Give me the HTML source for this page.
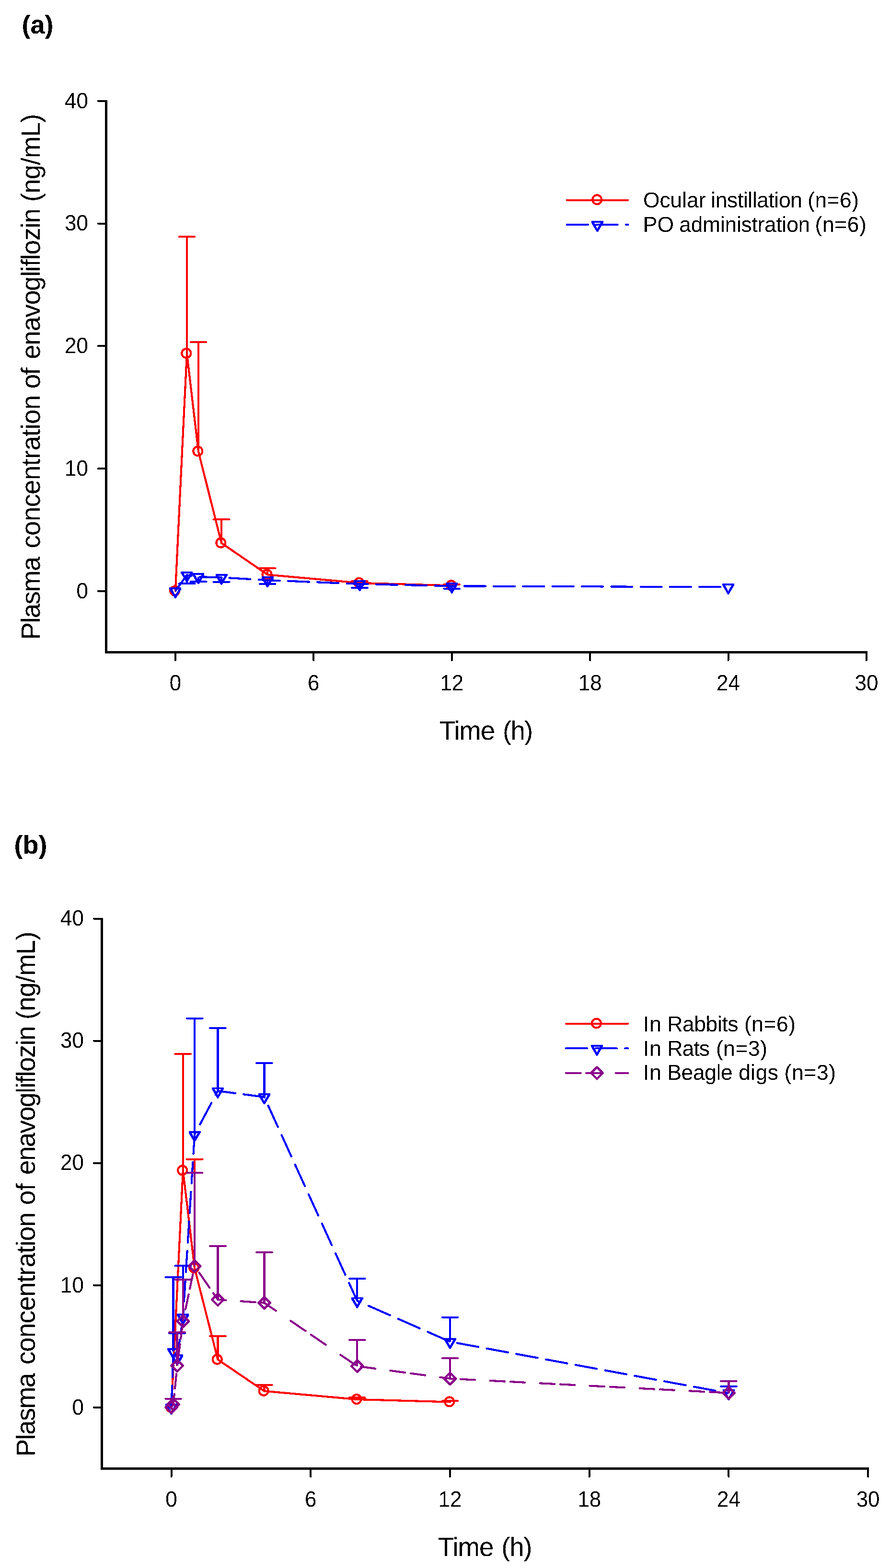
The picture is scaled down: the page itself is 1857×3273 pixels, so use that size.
<!DOCTYPE html>
<html lang="en">
<head>
<meta charset="utf-8">
<title>Plasma concentration of enavogliflozin</title>
<style>
html,body{margin:0;padding:0;background:#fff;}
body{width:1857px;height:3273px;overflow:hidden;}
svg{display:block;}
text{font-family:"Liberation Sans",sans-serif;fill:#000;filter:url(#crisp);}
</style>
</head>
<body>
<svg width="1857" height="3273" viewBox="0 0 1857 3273" shape-rendering="crispEdges" text-rendering="geometricPrecision">
<defs><filter id="crisp" x="-5%" y="-20%" width="110%" height="140%" color-interpolation-filters="sRGB"><feComponentTransfer><feFuncA type="discrete" tableValues="0 1"/></feComponentTransfer></filter></defs>
<rect x="0" y="0" width="1857" height="3273" fill="#fff"/>
<g>
<line x1="221.5" y1="208.8" x2="221.5" y2="1364" stroke="#000" stroke-width="5" stroke-linecap="butt"/>
<line x1="219" y1="1361.5" x2="1810" y2="1361.5" stroke="#000" stroke-width="5" stroke-linecap="butt"/>
<line x1="205" y1="1233.8" x2="221.5" y2="1233.8" stroke="#000" stroke-width="4" stroke-linecap="round"/>
<text transform="translate(184 1248.5) scale(1 1.05)" font-size="44" text-anchor="end">0</text>
<line x1="205" y1="978.05" x2="221.5" y2="978.05" stroke="#000" stroke-width="4" stroke-linecap="round"/>
<text transform="translate(184 992.75) scale(1 1.05)" font-size="44" text-anchor="end">10</text>
<line x1="205" y1="722.3" x2="221.5" y2="722.3" stroke="#000" stroke-width="4" stroke-linecap="round"/>
<text transform="translate(184 737) scale(1 1.05)" font-size="44" text-anchor="end">20</text>
<line x1="205" y1="466.55" x2="221.5" y2="466.55" stroke="#000" stroke-width="4" stroke-linecap="round"/>
<text transform="translate(184 481.25) scale(1 1.05)" font-size="44" text-anchor="end">30</text>
<line x1="205" y1="210.8" x2="221.5" y2="210.8" stroke="#000" stroke-width="4" stroke-linecap="round"/>
<text transform="translate(184 225.5) scale(1 1.05)" font-size="44" text-anchor="end">40</text>
<line x1="365.9" y1="1361.5" x2="365.9" y2="1378" stroke="#000" stroke-width="4" stroke-linecap="round"/>
<text transform="translate(365.9 1440.8) scale(1 1.05)" font-size="44" text-anchor="middle">0</text>
<line x1="654.32" y1="1361.5" x2="654.32" y2="1378" stroke="#000" stroke-width="4" stroke-linecap="round"/>
<text transform="translate(654.32 1440.8) scale(1 1.05)" font-size="44" text-anchor="middle">6</text>
<line x1="942.74" y1="1361.5" x2="942.74" y2="1378" stroke="#000" stroke-width="4" stroke-linecap="round"/>
<text transform="translate(942.74 1440.8) scale(1 1.05)" font-size="44" text-anchor="middle">12</text>
<line x1="1231.16" y1="1361.5" x2="1231.16" y2="1378" stroke="#000" stroke-width="4" stroke-linecap="round"/>
<text transform="translate(1231.16 1440.8) scale(1 1.05)" font-size="44" text-anchor="middle">18</text>
<line x1="1519.58" y1="1361.5" x2="1519.58" y2="1378" stroke="#000" stroke-width="4" stroke-linecap="round"/>
<text transform="translate(1519.58 1440.8) scale(1 1.05)" font-size="44" text-anchor="middle">24</text>
<line x1="1808" y1="1361.5" x2="1808" y2="1378" stroke="#000" stroke-width="4" stroke-linecap="round"/>
<text transform="translate(1808 1440.8) scale(1 1.05)" font-size="44" text-anchor="middle">30</text>
</g>
<text transform="translate(917.9 1543.8) scale(1 1.01)" font-size="54.7" xml:space="preserve"><tspan x="-1" style="letter-spacing:-1.07px">Time</tspan> <tspan x="131.2" style="letter-spacing:-1.8px">(h)</tspan></text>
<text transform="translate(83.2 1331.3) rotate(-90) scale(1 1.01)" font-size="54.7" xml:space="preserve"><tspan x="-4" style="letter-spacing:-1.76px">Plasma</tspan> <tspan x="186.7" style="letter-spacing:-0.72px">concentration</tspan> <tspan x="520.1" style="letter-spacing:-1.8px">of</tspan> <tspan x="581.5" style="letter-spacing:-1.29px">enavogliflozin</tspan> <tspan x="910.1" style="letter-spacing:-0.83px">(ng/mL)</tspan></text>
<text transform="translate(45.5 70.3)" font-size="54" text-anchor="start" font-weight="bold">(a)</text>
<g>
<polyline points="365.9,1233.8 389.94,737.9 413.97,942.24 462.04,1133.55 558.18,1199.53 750.46,1216.92 942.74,1222.29" fill="none" stroke="#ff0000" stroke-width="4.2" stroke-linejoin="round" stroke-linecap="round"/>
<line x1="389.94" y1="737.9" x2="389.94" y2="494.17" stroke="#ff0000" stroke-width="4.5" stroke-linecap="butt"/>
<polygon points="371.29,494.17 372.88,492.17 406.99,492.17 408.58,494.17 406.99,496.17 372.88,496.17" fill="#ff0000"/>
<line x1="413.97" y1="942.24" x2="413.97" y2="714.12" stroke="#ff0000" stroke-width="4.5" stroke-linecap="butt"/>
<polygon points="395.32,714.12 396.92,712.12 431.02,712.12 432.62,714.12 431.02,716.12 396.92,716.12" fill="#ff0000"/>
<line x1="462.04" y1="1133.55" x2="462.04" y2="1084.44" stroke="#ff0000" stroke-width="4.5" stroke-linecap="butt"/>
<polygon points="443.39,1084.44 444.99,1082.44 479.09,1082.44 480.69,1084.44 479.09,1086.44 444.99,1086.44" fill="#ff0000"/>
<line x1="558.18" y1="1199.53" x2="558.18" y2="1186.49" stroke="#ff0000" stroke-width="4.5" stroke-linecap="butt"/>
<polygon points="539.53,1186.49 541.13,1184.49 575.23,1184.49 576.83,1186.49 575.23,1188.49 541.13,1188.49" fill="#ff0000"/>
<line x1="750.46" y1="1216.92" x2="750.46" y2="1213.34" stroke="#ff0000" stroke-width="4.5" stroke-linecap="butt"/>
<polygon points="731.81,1213.34 733.41,1211.34 767.51,1211.34 769.11,1213.34 767.51,1215.34 733.41,1215.34" fill="#ff0000"/>
<line x1="942.74" y1="1222.29" x2="942.74" y2="1219.99" stroke="#ff0000" stroke-width="4.5" stroke-linecap="butt"/>
<polygon points="924.09,1219.99 925.69,1217.99 959.79,1217.99 961.39,1219.99 959.79,1221.99 925.69,1221.99" fill="#ff0000"/>
<circle cx="364.7" cy="1233.3" r="9.45" fill="none" stroke="#ff0000" stroke-width="4.2"/>
<circle cx="388.74" cy="737.4" r="9.45" fill="none" stroke="#ff0000" stroke-width="4.2"/>
<circle cx="412.77" cy="941.74" r="9.45" fill="none" stroke="#ff0000" stroke-width="4.2"/>
<circle cx="460.84" cy="1133.05" r="9.45" fill="none" stroke="#ff0000" stroke-width="4.2"/>
<circle cx="556.98" cy="1199.03" r="9.45" fill="none" stroke="#ff0000" stroke-width="4.2"/>
<circle cx="749.26" cy="1216.42" r="9.45" fill="none" stroke="#ff0000" stroke-width="4.2"/>
<circle cx="941.54" cy="1221.79" r="9.45" fill="none" stroke="#ff0000" stroke-width="4.2"/>
</g>
<g>
<path d="M366.83,1232.5L389.94,1200.3L399.78,1201.87M417.07,1204.22L462.04,1205.41L462.66,1205.45M478.36,1206.37L522.36,1208.94M539.67,1209.95L558.18,1211.04L583.66,1212.09M600.97,1212.8L644.97,1214.62M662.27,1215.33L706.27,1217.14M723.57,1217.86L750.46,1218.97L767.57,1219.35M784.87,1219.74L828.87,1220.74M846.18,1221.13L890.17,1222.13M907.48,1222.52L942.74,1223.31L951.47,1223.35M968.78,1223.41L1012.77,1223.56M1030.08,1223.62L1074.07,1223.78M1091.38,1223.84L1135.38,1224M1152.68,1224.06L1196.68,1224.21M1213.99,1224.28L1257.98,1224.43M1275.29,1224.49L1319.28,1224.65M1336.59,1224.71L1380.58,1224.87M1397.89,1224.93L1441.88,1225.08M1459.19,1225.15L1503.19,1225.3" fill="none" stroke="#0000ff" stroke-width="4.2" stroke-linecap="round" stroke-linejoin="round"/>
<line x1="389.94" y1="1200.3" x2="389.94" y2="1218.45" stroke="#0000ff" stroke-width="4.5" stroke-linecap="butt"/>
<polygon points="371.29,1218.45 372.88,1216.45 406.99,1216.45 408.58,1218.45 406.99,1220.45 372.88,1220.45" fill="#0000ff"/>
<line x1="413.97" y1="1204.13" x2="413.97" y2="1214.49" stroke="#0000ff" stroke-width="4.5" stroke-linecap="butt"/>
<polygon points="395.32,1214.49 396.92,1212.49 431.02,1212.49 432.62,1214.49 431.02,1216.49 396.92,1216.49" fill="#0000ff"/>
<line x1="462.04" y1="1205.41" x2="462.04" y2="1214.62" stroke="#0000ff" stroke-width="4.5" stroke-linecap="butt"/>
<polygon points="443.39,1214.62 444.99,1212.62 479.09,1212.62 480.69,1214.62 479.09,1216.62 444.99,1216.62" fill="#0000ff"/>
<line x1="558.18" y1="1211.04" x2="558.18" y2="1218.97" stroke="#0000ff" stroke-width="4.5" stroke-linecap="butt"/>
<polygon points="539.53,1218.97 541.13,1216.97 575.23,1216.97 576.83,1218.97 575.23,1220.97 541.13,1220.97" fill="#0000ff"/>
<line x1="750.46" y1="1218.97" x2="750.46" y2="1226.89" stroke="#0000ff" stroke-width="4.5" stroke-linecap="butt"/>
<polygon points="731.81,1226.89 733.41,1224.89 767.51,1224.89 769.11,1226.89 767.51,1228.89 733.41,1228.89" fill="#0000ff"/>
<line x1="942.74" y1="1223.31" x2="942.74" y2="1228.68" stroke="#0000ff" stroke-width="4.5" stroke-linecap="butt"/>
<polygon points="924.09,1228.68 925.69,1226.68 959.79,1226.68 961.39,1228.68 959.79,1230.68 925.69,1230.68" fill="#0000ff"/>
<path d="M353.4,1226.13L378.4,1226.13L378.4,1230.03L367.1,1249.13L364.7,1249.13L353.4,1230.03ZM359.3,1230.03L372.5,1230.03L365.9,1242.13Z" fill="#0000ff" fill-rule="evenodd"/>
<path d="M377.44,1192.63L402.44,1192.63L402.44,1196.53L391.13,1215.63L388.74,1215.63L377.44,1196.53ZM383.33,1196.53L396.54,1196.53L389.94,1208.63Z" fill="#0000ff" fill-rule="evenodd"/>
<path d="M401.47,1196.47L426.47,1196.47L426.47,1200.37L415.17,1219.47L412.77,1219.47L401.47,1200.37ZM407.37,1200.37L420.57,1200.37L413.97,1212.47Z" fill="#0000ff" fill-rule="evenodd"/>
<path d="M449.54,1197.75L474.54,1197.75L474.54,1201.65L463.24,1220.75L460.84,1220.75L449.54,1201.65ZM455.44,1201.65L468.64,1201.65L462.04,1213.75Z" fill="#0000ff" fill-rule="evenodd"/>
<path d="M545.68,1203.37L570.68,1203.37L570.68,1207.27L559.38,1226.37L556.98,1226.37L545.68,1207.27ZM551.58,1207.27L564.78,1207.27L558.18,1219.37Z" fill="#0000ff" fill-rule="evenodd"/>
<path d="M737.96,1211.3L762.96,1211.3L762.96,1215.2L751.66,1234.3L749.26,1234.3L737.96,1215.2ZM743.86,1215.2L757.06,1215.2L750.46,1227.3Z" fill="#0000ff" fill-rule="evenodd"/>
<path d="M930.24,1215.65L955.24,1215.65L955.24,1219.55L943.94,1238.65L941.54,1238.65L930.24,1219.55ZM936.14,1219.55L949.34,1219.55L942.74,1231.65Z" fill="#0000ff" fill-rule="evenodd"/>
<path d="M1507.08,1217.69L1532.08,1217.69L1532.08,1221.59L1520.78,1240.69L1518.38,1240.69L1507.08,1221.59ZM1512.98,1221.59L1526.18,1221.59L1519.58,1233.69Z" fill="#0000ff" fill-rule="evenodd"/>
</g>
<line x1="1183" y1="417.7" x2="1310" y2="417.7" stroke="#ff0000" stroke-width="4" stroke-linecap="round"/>
<circle cx="1245.7" cy="416.7" r="9.45" fill="none" stroke="#ff0000" stroke-width="4.2"/>
<text transform="translate(1343.9 432.8) scale(1 1.02)" font-size="44.4" xml:space="preserve"><tspan x="-2" style="letter-spacing:-0.04px">Ocular</tspan> <tspan x="139.4" style="letter-spacing:-0.38px">instillation</tspan> <tspan x="341.3" style="letter-spacing:0.5px">(n=6)</tspan></text>
<path d="M1182.5,468.9L1227,468.9M1244.2,468.9L1288.7,468.9M1305.9,468.9L1310.5,468.9" fill="none" stroke="#0000ff" stroke-width="4" stroke-linecap="round" stroke-linejoin="round"/>
<path d="M1233.9,461.23L1258.9,461.23L1258.9,465.13L1247.6,484.23L1245.2,484.23L1233.9,465.13ZM1239.8,465.13L1253,465.13L1246.4,477.23Z" fill="#0000ff" fill-rule="evenodd"/>
<text transform="translate(1345.8 483.7) scale(1 1.02)" font-size="44.4" xml:space="preserve"><tspan x="-4">PO</tspan> <tspan x="71.5" style="letter-spacing:-0.26px">administration</tspan> <tspan x="354.8" style="letter-spacing:0.6px">(n=6)</tspan></text>
<g>
<line x1="212.5" y1="1915.5" x2="212.5" y2="3068" stroke="#000" stroke-width="5" stroke-linecap="butt"/>
<line x1="210" y1="3065.5" x2="1813.1" y2="3065.5" stroke="#000" stroke-width="5" stroke-linecap="butt"/>
<line x1="196" y1="2937.9" x2="212.5" y2="2937.9" stroke="#000" stroke-width="4" stroke-linecap="round"/>
<text transform="translate(175 2952.6) scale(1 1.05)" font-size="44" text-anchor="end">0</text>
<line x1="196" y1="2682.8" x2="212.5" y2="2682.8" stroke="#000" stroke-width="4" stroke-linecap="round"/>
<text transform="translate(175 2697.5) scale(1 1.05)" font-size="44" text-anchor="end">10</text>
<line x1="196" y1="2427.7" x2="212.5" y2="2427.7" stroke="#000" stroke-width="4" stroke-linecap="round"/>
<text transform="translate(175 2442.4) scale(1 1.05)" font-size="44" text-anchor="end">20</text>
<line x1="196" y1="2172.6" x2="212.5" y2="2172.6" stroke="#000" stroke-width="4" stroke-linecap="round"/>
<text transform="translate(175 2187.3) scale(1 1.05)" font-size="44" text-anchor="end">30</text>
<line x1="196" y1="1917.5" x2="212.5" y2="1917.5" stroke="#000" stroke-width="4" stroke-linecap="round"/>
<text transform="translate(175 1932.2) scale(1 1.05)" font-size="44" text-anchor="end">40</text>
<line x1="357.6" y1="3065.5" x2="357.6" y2="3082" stroke="#000" stroke-width="4" stroke-linecap="round"/>
<text transform="translate(357.6 3144.5) scale(1 1.05)" font-size="44" text-anchor="middle">0</text>
<line x1="648.3" y1="3065.5" x2="648.3" y2="3082" stroke="#000" stroke-width="4" stroke-linecap="round"/>
<text transform="translate(648.3 3144.5) scale(1 1.05)" font-size="44" text-anchor="middle">6</text>
<line x1="939" y1="3065.5" x2="939" y2="3082" stroke="#000" stroke-width="4" stroke-linecap="round"/>
<text transform="translate(939 3144.5) scale(1 1.05)" font-size="44" text-anchor="middle">12</text>
<line x1="1229.7" y1="3065.5" x2="1229.7" y2="3082" stroke="#000" stroke-width="4" stroke-linecap="round"/>
<text transform="translate(1229.7 3144.5) scale(1 1.05)" font-size="44" text-anchor="middle">18</text>
<line x1="1520.4" y1="3065.5" x2="1520.4" y2="3082" stroke="#000" stroke-width="4" stroke-linecap="round"/>
<text transform="translate(1520.4 3144.5) scale(1 1.05)" font-size="44" text-anchor="middle">24</text>
<line x1="1811.1" y1="3065.5" x2="1811.1" y2="3082" stroke="#000" stroke-width="4" stroke-linecap="round"/>
<text transform="translate(1811.1 3144.5) scale(1 1.05)" font-size="44" text-anchor="middle">30</text>
</g>
<text transform="translate(915 3248) scale(1 1.01)" font-size="54.7" xml:space="preserve"><tspan x="-1" style="letter-spacing:-1px">Time</tspan> <tspan x="131.3" style="letter-spacing:-1.3px">(h)</tspan></text>
<text transform="translate(72.6 3036.2) rotate(-90) scale(1 1.01)" font-size="54.7" xml:space="preserve"><tspan x="-4" style="letter-spacing:-1.64px">Plasma</tspan> <tspan x="187.9" style="letter-spacing:-0.87px">concentration</tspan> <tspan x="520.9" style="letter-spacing:-0.4px">of</tspan> <tspan x="584.1" style="letter-spacing:-1.6px">enavogliflozin</tspan> <tspan x="908" style="letter-spacing:-0.77px">(ng/mL)</tspan></text>
<text transform="translate(29.5 1782.3)" font-size="54" text-anchor="start" font-weight="bold">(b)</text>
<g>
<polyline points="357.6,2937.9 381.83,2443.26 406.05,2647.09 454.5,2837.9 551.4,2903.72 745.2,2921.06 939,2926.42" fill="none" stroke="#ff0000" stroke-width="4.2" stroke-linejoin="round" stroke-linecap="round"/>
<line x1="381.83" y1="2443.26" x2="381.83" y2="2200.15" stroke="#ff0000" stroke-width="4.5" stroke-linecap="butt"/>
<polygon points="363.18,2200.15 364.78,2198.15 398.88,2198.15 400.48,2200.15 398.88,2202.15 364.78,2202.15" fill="#ff0000"/>
<line x1="406.05" y1="2647.09" x2="406.05" y2="2419.54" stroke="#ff0000" stroke-width="4.5" stroke-linecap="butt"/>
<polygon points="387.4,2419.54 389,2417.54 423.1,2417.54 424.7,2419.54 423.1,2421.54 389,2421.54" fill="#ff0000"/>
<line x1="454.5" y1="2837.9" x2="454.5" y2="2788.92" stroke="#ff0000" stroke-width="4.5" stroke-linecap="butt"/>
<polygon points="435.85,2788.92 437.45,2786.92 471.55,2786.92 473.15,2788.92 471.55,2790.92 437.45,2790.92" fill="#ff0000"/>
<line x1="551.4" y1="2903.72" x2="551.4" y2="2890.71" stroke="#ff0000" stroke-width="4.5" stroke-linecap="butt"/>
<polygon points="532.75,2890.71 534.35,2888.71 568.45,2888.71 570.05,2890.71 568.45,2892.71 534.35,2892.71" fill="#ff0000"/>
<line x1="745.2" y1="2921.06" x2="745.2" y2="2917.49" stroke="#ff0000" stroke-width="4.5" stroke-linecap="butt"/>
<polygon points="726.55,2917.49 728.15,2915.49 762.25,2915.49 763.85,2917.49 762.25,2919.49 728.15,2919.49" fill="#ff0000"/>
<line x1="939" y1="2926.42" x2="939" y2="2924.12" stroke="#ff0000" stroke-width="4.5" stroke-linecap="butt"/>
<polygon points="920.35,2924.12 921.95,2922.12 956.05,2922.12 957.65,2924.12 956.05,2926.12 921.95,2926.12" fill="#ff0000"/>
<circle cx="356.4" cy="2937.4" r="9.45" fill="none" stroke="#ff0000" stroke-width="4.2"/>
<circle cx="380.63" cy="2442.76" r="9.45" fill="none" stroke="#ff0000" stroke-width="4.2"/>
<circle cx="404.85" cy="2646.59" r="9.45" fill="none" stroke="#ff0000" stroke-width="4.2"/>
<circle cx="453.3" cy="2837.4" r="9.45" fill="none" stroke="#ff0000" stroke-width="4.2"/>
<circle cx="550.2" cy="2903.22" r="9.45" fill="none" stroke="#ff0000" stroke-width="4.2"/>
<circle cx="744" cy="2920.56" r="9.45" fill="none" stroke="#ff0000" stroke-width="4.2"/>
<circle cx="937.8" cy="2925.92" r="9.45" fill="none" stroke="#ff0000" stroke-width="4.2"/>
</g>
<g>
<path d="M357.66,2936.3L359.18,2892M359.78,2874.6L361.31,2830.3M366.44,2829.52L369.71,2835.09L375.27,2796.13M377.74,2778.77L381.83,2750.15L382.82,2734.45M383.92,2717.05L386.73,2672.75M387.84,2655.35L390.65,2611.05M391.75,2593.65L394.56,2549.35M395.67,2531.95L398.48,2487.65M399.58,2470.25L402.39,2425.95M403.49,2408.55L406.05,2368.26L408.28,2364.06M417.34,2347.04L441.11,2302.36M450.17,2285.34L454.5,2277.19L490.91,2281.98M508.3,2284.27L551.4,2289.95L551.69,2290.58M559.49,2307.69L579.81,2352.28M587.6,2369.39L607.92,2413.98M615.72,2431.09L636.04,2475.68M643.84,2492.79L664.16,2537.38M671.96,2554.49L692.28,2599.08M700.08,2616.19L720.4,2660.78M728.2,2677.89L745.2,2715.2L751.88,2718.14M769.03,2725.71L813.67,2745.39M830.82,2752.95L875.47,2772.64M892.62,2780.2L937.26,2799.89M953.72,2803.37L998.14,2811.58M1015.51,2814.79L1059.93,2823M1077.3,2826.2L1121.73,2834.41M1139.1,2837.62L1183.52,2845.82M1200.89,2849.03L1245.31,2857.24M1262.68,2860.45L1307.11,2868.65M1324.47,2871.86L1368.9,2880.07M1386.27,2883.28L1430.69,2891.48M1448.06,2894.69L1492.48,2902.9M1509.85,2906.1L1518.83,2907.76" fill="none" stroke="#0000ff" stroke-width="4.2" stroke-linecap="round" stroke-linejoin="round"/>
<line x1="361.62" y1="2821.32" x2="361.62" y2="2666.22" stroke="#0000ff" stroke-width="4.5" stroke-linecap="butt"/>
<polygon points="342.97,2666.22 344.57,2664.22 378.67,2664.22 380.27,2666.22 378.67,2668.22 344.57,2668.22" fill="#0000ff"/>
<line x1="369.71" y1="2835.09" x2="369.71" y2="2783.05" stroke="#0000ff" stroke-width="4.5" stroke-linecap="butt"/>
<polygon points="351.06,2783.05 352.66,2781.05 386.76,2781.05 388.36,2783.05 386.76,2785.05 352.66,2785.05" fill="#0000ff"/>
<line x1="381.83" y1="2750.15" x2="381.83" y2="2642.49" stroke="#0000ff" stroke-width="4.5" stroke-linecap="butt"/>
<polygon points="363.18,2642.49 364.78,2640.49 398.88,2640.49 400.48,2642.49 398.88,2644.49 364.78,2644.49" fill="#0000ff"/>
<line x1="406.05" y1="2368.26" x2="406.05" y2="2125.66" stroke="#0000ff" stroke-width="4.5" stroke-linecap="butt"/>
<polygon points="387.4,2125.66 389,2123.66 423.1,2123.66 424.7,2125.66 423.1,2127.66 389,2127.66" fill="#0000ff"/>
<line x1="454.5" y1="2277.19" x2="454.5" y2="2146.32" stroke="#0000ff" stroke-width="4.5" stroke-linecap="butt"/>
<polygon points="435.85,2146.32 437.45,2144.32 471.55,2144.32 473.15,2146.32 471.55,2148.32 437.45,2148.32" fill="#0000ff"/>
<line x1="551.4" y1="2289.95" x2="551.4" y2="2219.28" stroke="#0000ff" stroke-width="4.5" stroke-linecap="butt"/>
<polygon points="532.75,2219.28 534.35,2217.28 568.45,2217.28 570.05,2219.28 568.45,2221.28 534.35,2221.28" fill="#0000ff"/>
<line x1="745.2" y1="2715.2" x2="745.2" y2="2669.02" stroke="#0000ff" stroke-width="4.5" stroke-linecap="butt"/>
<polygon points="726.55,2669.02 728.15,2667.02 762.25,2667.02 763.85,2669.02 762.25,2671.02 728.15,2671.02" fill="#0000ff"/>
<line x1="939" y1="2800.66" x2="939" y2="2749.89" stroke="#0000ff" stroke-width="4.5" stroke-linecap="butt"/>
<polygon points="920.35,2749.89 921.95,2747.89 956.05,2747.89 957.65,2749.89 956.05,2751.89 921.95,2751.89" fill="#0000ff"/>
<line x1="1520.4" y1="2908.05" x2="1520.4" y2="2894.02" stroke="#0000ff" stroke-width="4.5" stroke-linecap="butt"/>
<polygon points="1501.75,2894.02 1503.35,2892.02 1537.45,2892.02 1539.05,2894.02 1537.45,2896.02 1503.35,2896.02" fill="#0000ff"/>
<path d="M345.1,2930.23L370.1,2930.23L370.1,2934.13L358.8,2953.23L356.4,2953.23L345.1,2934.13ZM351,2934.13L364.2,2934.13L357.6,2946.23Z" fill="#0000ff" fill-rule="evenodd"/>
<path d="M349.12,2813.65L374.12,2813.65L374.12,2817.55L362.82,2836.65L360.42,2836.65L349.12,2817.55ZM355.02,2817.55L368.22,2817.55L361.62,2829.65Z" fill="#0000ff" fill-rule="evenodd"/>
<path d="M357.21,2827.43L382.21,2827.43L382.21,2831.33L370.91,2850.43L368.51,2850.43L357.21,2831.33ZM363.11,2831.33L376.31,2831.33L369.71,2843.43Z" fill="#0000ff" fill-rule="evenodd"/>
<path d="M369.33,2742.48L394.33,2742.48L394.33,2746.38L383.03,2765.48L380.63,2765.48L369.33,2746.38ZM375.23,2746.38L388.43,2746.38L381.83,2758.48Z" fill="#0000ff" fill-rule="evenodd"/>
<path d="M393.55,2360.6L418.55,2360.6L418.55,2364.5L407.25,2383.6L404.85,2383.6L393.55,2364.5ZM399.45,2364.5L412.65,2364.5L406.05,2376.6Z" fill="#0000ff" fill-rule="evenodd"/>
<path d="M442,2269.52L467,2269.52L467,2273.42L455.7,2292.52L453.3,2292.52L442,2273.42ZM447.9,2273.42L461.1,2273.42L454.5,2285.52Z" fill="#0000ff" fill-rule="evenodd"/>
<path d="M538.9,2282.28L563.9,2282.28L563.9,2286.18L552.6,2305.28L550.2,2305.28L538.9,2286.18ZM544.8,2286.18L558,2286.18L551.4,2298.28Z" fill="#0000ff" fill-rule="evenodd"/>
<path d="M732.7,2707.53L757.7,2707.53L757.7,2711.43L746.4,2730.53L744,2730.53L732.7,2711.43ZM738.6,2711.43L751.8,2711.43L745.2,2723.53Z" fill="#0000ff" fill-rule="evenodd"/>
<path d="M926.5,2792.99L951.5,2792.99L951.5,2796.89L940.2,2815.99L937.8,2815.99L926.5,2796.89ZM932.4,2796.89L945.6,2796.89L939,2808.99Z" fill="#0000ff" fill-rule="evenodd"/>
<path d="M1507.9,2900.39L1532.9,2900.39L1532.9,2904.29L1521.6,2923.39L1519.2,2923.39L1507.9,2904.29ZM1513.8,2904.29L1527,2904.29L1520.4,2916.39Z" fill="#0000ff" fill-rule="evenodd"/>
</g>
<g>
<path d="M358.45,2936.55L361.62,2931.52L363.8,2909.79M364.96,2898.11L368,2867.79M371.54,2836.61L375.57,2805.79M377.09,2794.11L381.04,2763.79M387.12,2732.63L393.62,2701.77M396.07,2690.13L402.47,2659.77M415.63,2656.62L437.29,2687.98M444.98,2699.12L454.5,2712.9L471.3,2714.05M502.49,2716.19L533.3,2718.3M544.99,2719.1L551.4,2719.53L575.57,2736.02M606.22,2756.91L637.57,2778.29M648.72,2785.89L679.57,2806.93M710.22,2827.82L741.57,2849.2M752.98,2852.72L783.31,2856.79M814.48,2860.98L845.31,2865.12M856.98,2866.68L887.31,2870.76M918.48,2874.94L939,2877.7L949.3,2878.23M960.99,2878.83L991.3,2880.38M1022.49,2881.98L1053.3,2883.56M1064.99,2884.16L1095.3,2885.72M1126.49,2887.32L1157.3,2888.9M1168.99,2889.5L1199.3,2891.06M1230.49,2892.66L1261.3,2894.24M1272.99,2894.84L1303.3,2896.4M1334.49,2898L1365.3,2899.58M1376.99,2900.18L1407.3,2901.74M1438.49,2903.34L1469.3,2904.92M1480.99,2905.52L1511.3,2907.08" fill="none" stroke="#8b008b" stroke-width="4.2" stroke-linecap="round" stroke-linejoin="round"/>
<line x1="361.62" y1="2931.52" x2="361.62" y2="2919.53" stroke="#8b008b" stroke-width="4.5" stroke-linecap="butt"/>
<polygon points="342.97,2919.53 344.57,2917.53 378.67,2917.53 380.27,2919.53 378.67,2921.53 344.57,2921.53" fill="#8b008b"/>
<line x1="369.71" y1="2850.66" x2="369.71" y2="2781.01" stroke="#8b008b" stroke-width="4.5" stroke-linecap="butt"/>
<polygon points="351.06,2781.01 352.66,2779.01 386.76,2779.01 388.36,2781.01 386.76,2783.01 352.66,2783.01" fill="#8b008b"/>
<line x1="381.83" y1="2757.8" x2="381.83" y2="2670.56" stroke="#8b008b" stroke-width="4.5" stroke-linecap="butt"/>
<polygon points="363.18,2670.56 364.78,2668.56 398.88,2668.56 400.48,2670.56 398.88,2672.56 364.78,2672.56" fill="#8b008b"/>
<line x1="406.05" y1="2642.75" x2="406.05" y2="2448.11" stroke="#8b008b" stroke-width="4.5" stroke-linecap="butt"/>
<polygon points="387.4,2448.11 389,2446.11 423.1,2446.11 424.7,2448.11 423.1,2450.11 389,2450.11" fill="#8b008b"/>
<line x1="454.5" y1="2712.9" x2="454.5" y2="2601.17" stroke="#8b008b" stroke-width="4.5" stroke-linecap="butt"/>
<polygon points="435.85,2601.17 437.45,2599.17 471.55,2599.17 473.15,2601.17 471.55,2603.17 437.45,2603.17" fill="#8b008b"/>
<line x1="551.4" y1="2719.53" x2="551.4" y2="2613.92" stroke="#8b008b" stroke-width="4.5" stroke-linecap="butt"/>
<polygon points="532.75,2613.92 534.35,2611.92 568.45,2611.92 570.05,2613.92 568.45,2615.92 534.35,2615.92" fill="#8b008b"/>
<line x1="745.2" y1="2851.68" x2="745.2" y2="2797.08" stroke="#8b008b" stroke-width="4.5" stroke-linecap="butt"/>
<polygon points="726.55,2797.08 728.15,2795.08 762.25,2795.08 763.85,2797.08 762.25,2799.08 728.15,2799.08" fill="#8b008b"/>
<line x1="939" y1="2877.7" x2="939" y2="2835.09" stroke="#8b008b" stroke-width="4.5" stroke-linecap="butt"/>
<polygon points="920.35,2835.09 921.95,2833.09 956.05,2833.09 957.65,2835.09 956.05,2837.09 921.95,2837.09" fill="#8b008b"/>
<line x1="1520.4" y1="2907.54" x2="1520.4" y2="2882.8" stroke="#8b008b" stroke-width="4.5" stroke-linecap="butt"/>
<polygon points="1501.75,2882.8 1503.35,2880.8 1537.45,2880.8 1539.05,2882.8 1537.45,2884.8 1503.35,2884.8" fill="#8b008b"/>
<path d="M357.6,2925.8L369.7,2937.9L357.6,2950L345.5,2937.9Z" fill="none" stroke="#8b008b" stroke-width="4.8" stroke-linejoin="round"/>
<path d="M361.62,2919.42L373.72,2931.52L361.62,2943.62L349.52,2931.52Z" fill="none" stroke="#8b008b" stroke-width="4.8" stroke-linejoin="round"/>
<path d="M369.71,2838.56L381.81,2850.66L369.71,2862.76L357.61,2850.66Z" fill="none" stroke="#8b008b" stroke-width="4.8" stroke-linejoin="round"/>
<path d="M381.83,2745.7L393.93,2757.8L381.83,2769.9L369.73,2757.8Z" fill="none" stroke="#8b008b" stroke-width="4.8" stroke-linejoin="round"/>
<path d="M406.05,2630.65L418.15,2642.75L406.05,2654.85L393.95,2642.75Z" fill="none" stroke="#8b008b" stroke-width="4.8" stroke-linejoin="round"/>
<path d="M454.5,2700.8L466.6,2712.9L454.5,2725L442.4,2712.9Z" fill="none" stroke="#8b008b" stroke-width="4.8" stroke-linejoin="round"/>
<path d="M551.4,2707.43L563.5,2719.53L551.4,2731.63L539.3,2719.53Z" fill="none" stroke="#8b008b" stroke-width="4.8" stroke-linejoin="round"/>
<path d="M745.2,2839.58L757.3,2851.68L745.2,2863.78L733.1,2851.68Z" fill="none" stroke="#8b008b" stroke-width="4.8" stroke-linejoin="round"/>
<path d="M939,2865.6L951.1,2877.7L939,2889.8L926.9,2877.7Z" fill="none" stroke="#8b008b" stroke-width="4.8" stroke-linejoin="round"/>
<path d="M1520.4,2895.44L1532.5,2907.54L1520.4,2919.64L1508.3,2907.54Z" fill="none" stroke="#8b008b" stroke-width="4.8" stroke-linejoin="round"/>
</g>
<line x1="1181.2" y1="2137" x2="1310" y2="2137" stroke="#ff0000" stroke-width="4" stroke-linecap="round"/>
<circle cx="1244.5" cy="2136" r="9.45" fill="none" stroke="#ff0000" stroke-width="4.2"/>
<text transform="translate(1345.6 2153) scale(1 1.02)" font-size="44.4" xml:space="preserve"><tspan x="-4" style="letter-spacing:1.2px">In</tspan> <tspan x="46.8" style="letter-spacing:-0.43px">Rabbits</tspan> <tspan x="207.3" style="letter-spacing:0.55px">(n=6)</tspan></text>
<path d="M1180.7,2188.4L1225.2,2188.4M1242.4,2188.4L1286.9,2188.4M1304.1,2188.4L1310.5,2188.4" fill="none" stroke="#0000ff" stroke-width="4" stroke-linecap="round" stroke-linejoin="round"/>
<path d="M1233,2180.73L1258,2180.73L1258,2184.63L1246.7,2203.73L1244.3,2203.73L1233,2184.63ZM1238.9,2184.63L1252.1,2184.63L1245.5,2196.73Z" fill="#0000ff" fill-rule="evenodd"/>
<text transform="translate(1345.6 2203.7) scale(1 1.02)" font-size="44.4" xml:space="preserve"><tspan x="-4" style="letter-spacing:1.2px">In</tspan> <tspan x="46.8" style="letter-spacing:-0.87px">Rats</tspan> <tspan x="148.3" style="letter-spacing:0.55px">(n=3)</tspan></text>
<path d="M1180.7,2239.9L1211.7,2239.9M1223.2,2239.9L1253.7,2239.9M1284.7,2239.9L1310.5,2239.9" fill="none" stroke="#8b008b" stroke-width="4" stroke-linecap="round" stroke-linejoin="round"/>
<path d="M1245.5,2227.8L1257.6,2239.9L1245.5,2252L1233.4,2239.9Z" fill="none" stroke="#8b008b" stroke-width="4.8" stroke-linejoin="round"/>
<text transform="translate(1345.6 2254.4) scale(1 1.02)" font-size="44.4" xml:space="preserve"><tspan x="-4" style="letter-spacing:1.2px">In</tspan> <tspan x="46.8" style="letter-spacing:-0.4px">Beagle</tspan> <tspan x="195.6" style="letter-spacing:0.47px">digs</tspan> <tspan x="290.9" style="letter-spacing:0.7px">(n=3)</tspan></text>
</svg>
</body>
</html>
